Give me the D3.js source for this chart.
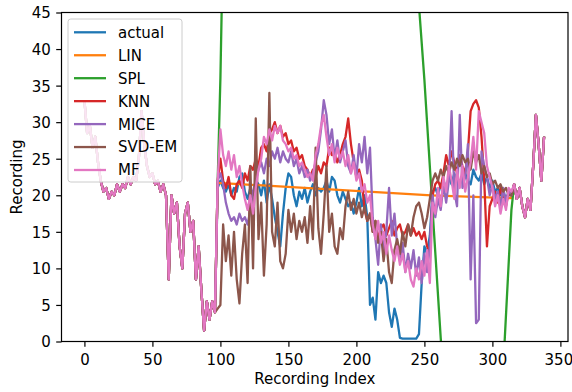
<!DOCTYPE html>
<html>
<head>
<meta charset="utf-8">
<script src="https://cdn.jsdelivr.net/npm/d3@7"></script>
<style>
  body { margin: 0; background: #fff; }
  svg { display: block; }
  text { font-family: "DejaVu Sans", sans-serif; fill: #000; }
</style>
</head>
<body>
<div id="chart"></div>
<script>
// readings taken every 2 recordings
// shared part before the gap (index 0..96)
const head = [
  33.0, 28.5, 29.5, 26.5, 28.0, 24.5, 22.0, 20.5, 21.0, 19.5,
  20.5, 20.0, 21.5, 20.5, 21.5, 21.0, 22.5, 21.5, 22.5, 22.0,
  25.0, 31.5, 27.0, 24.0, 22.5, 23.0, 21.5, 22.0, 20.5, 21.5,
  20.0, 8.5, 20.0, 17.5, 19.0, 13.0, 10.0, 17.5, 19.0, 15.0,
  16.5, 8.5, 13.0, 7.0, 1.5, 5.5, 3.0, 5.5, 4.0
];
// shared part after the gap (index 316..338)
const tail = [21.5, 19.5, 21.0, 18.5, 17.0, 19.5, 18.0, 24.0, 31.0, 27.0, 22.0, 28.0];

// gap, index 98..314
const actualGap = [
  21.0,
  22.0, 21.0, 20.5, 21.5, 20.0, 21.0, 20.5, 22.5, 23.0, 20.5,
  19.5, 21.0, 20.0, 22.0, 21.5, 20.0, 22.0, 19.0, 21.5, 19.5,
  17.0, 15.0, 13.0, 17.5, 21.0, 23.0, 22.5, 20.0, 18.5, 20.5,
  19.5, 21.0, 19.0, 20.5, 21.5, 20.0, 21.0, 20.5, 21.0, 22.0,
  20.5, 22.5, 22.0, 20.0, 19.0, 20.5, 19.5, 18.5, 19.0, 17.5,
  19.0, 21.0, 18.5, 20.0, 17.0, 5.0, 6.0, 3.0, 9.5, 8.0,
  9.0, 8.0, 4.0, 2.0, 4.5, 3.0, 0.5, 0.4, 0.4, 0.4,
  0.4, 0.4, 0.4, 1.0, 8.0, 13.0, 12.0, 14.5,
  20.5, 21.0, 20.0, 21.5, 22.0, 21.0, 22.5, 21.5, 23.0, 22.0,
  21.5, 22.5, 23.0, 22.0, 21.5, 23.5, 22.5, 22.0, 23.0, 21.5,
  22.5, 21.0, 22.0, 20.5, 21.0, 20.0, 20.5, 19.5, 20.5, 20.0
];
const knnGap = [
  22.0,
  25.0, 22.0, 21.0, 22.5, 20.0, 19.5, 21.5, 22.0, 21.0, 23.0,
  22.0, 24.0, 23.5, 25.0, 24.0, 26.5, 27.0, 26.0, 28.5, 29.0,
  30.0, 28.5, 29.5, 28.0, 28.5, 27.0, 27.5, 26.0, 26.5, 25.0,
  25.5, 24.0, 23.5, 22.5, 23.5, 22.5, 24.0, 23.0, 24.5, 24.0,
  26.5, 25.5, 26.0, 24.5, 25.5, 27.0, 28.0, 30.5, 27.0, 24.5,
  22.5, 23.5, 22.0, 18.0, 16.5, 17.5, 15.0, 16.5, 14.0, 15.5,
  16.0, 14.5, 15.5, 16.5, 14.5, 15.5, 16.0, 14.5, 15.0, 16.0,
  14.5, 15.5, 14.5, 15.0, 14.0, 15.0, 13.0, 12.0,
  20.0, 21.5, 22.0, 21.0, 23.0, 25.5, 24.0, 26.0, 24.5, 23.0,
  25.5, 24.0, 23.0, 26.0, 31.5, 32.5, 33.0, 32.0, 28.0, 22.0,
  13.0, 18.5, 19.5, 20.5, 19.0, 21.0, 19.5, 18.5, 20.5, 20.0
];
const miceGap = [
  22.0,
  23.0, 21.5, 19.0, 17.5, 16.5, 17.0, 16.0, 17.5, 16.5, 17.0,
  16.0, 18.0, 20.5, 22.0, 23.5, 24.5, 23.0, 25.0, 24.0, 26.0,
  25.0, 26.5, 24.5, 26.0, 25.0, 24.5, 26.0, 24.0, 25.0, 23.0,
  24.0, 22.5, 23.5, 22.0, 23.0, 24.5, 26.0, 29.0, 33.0, 31.0,
  27.0, 29.0, 25.0, 27.5, 24.5, 26.0, 27.5, 24.0, 23.0, 25.5,
  22.5, 27.0, 24.5, 28.0, 23.0, 26.5, 17.0, 14.0, 10.5, 16.0,
  12.5, 15.0, 21.0, 14.5, 17.5, 13.0, 11.0, 13.5, 9.5, 12.0,
  10.0, 12.5, 9.0, 11.5, 8.0, 12.0, 9.5, 13.0,
  20.0, 17.0, 19.5, 18.0, 21.5, 19.0, 22.0, 31.5, 20.5, 18.5,
  31.0, 21.0, 22.5, 27.0, 8.5, 20.0, 2.5, 3.0, 26.0, 24.0,
  22.5, 20.0, 21.5, 19.5, 20.5, 18.5, 21.0, 19.0, 20.5, 20.0
];
const svdGap = [
  4.5,
  5.0, 16.0, 11.0, 14.5, 9.0, 15.0, 8.5, 5.2, 12.0, 16.0,
  8.0, 24.0, 10.0, 30.5, 14.0, 19.0, 9.0, 16.0, 34.0, 15.0,
  13.0, 19.0, 11.0, 10.0, 12.0, 18.0, 15.0, 17.5, 14.0, 16.5,
  15.0, 17.0, 13.5, 18.5, 14.0, 26.5, 15.5, 12.0, 17.5, 24.0,
  15.0, 17.5, 13.0, 12.0, 15.5, 14.0, 18.5, 20.5, 18.0, 19.5,
  17.5, 19.0, 17.0, 18.5, 16.5, 17.5, 15.0, 16.5, 13.5, 15.0,
  11.0, 14.0, 9.5, 8.0, 12.5, 14.0, 12.0, 15.0, 13.0, 16.0,
  14.5, 17.0, 18.5, 19.0, 17.5, 15.5, 17.0, 19.5,
  22.0, 23.0, 22.0, 23.5, 22.5, 24.0, 23.0, 24.5, 23.5, 25.0,
  24.0, 25.5, 24.5, 25.0, 23.5, 26.0, 24.5, 25.5, 23.0, 24.0,
  22.5, 23.0, 21.5, 22.0, 21.0, 21.5, 20.5, 21.0, 20.0, 20.0
];
const mfGap = [
  22.0,
  29.0, 25.5, 24.0, 26.0, 23.5, 25.5, 22.5, 24.0, 21.5, 19.5,
  18.0, 20.0, 17.5, 21.0, 23.5, 25.0, 28.0, 27.0, 29.0, 27.5,
  29.5, 28.5, 29.5, 27.5, 27.0, 26.0, 26.5, 25.0, 25.5, 24.0,
  24.5, 23.5, 22.5, 23.0, 22.0, 25.5, 27.0, 29.5, 31.0, 28.0,
  25.5, 27.0, 24.5, 26.5, 25.0, 26.0, 24.0, 25.5, 23.0, 24.5,
  22.0, 23.0, 20.5, 21.5, 19.0, 20.0, 16.0, 14.0, 16.5, 13.5,
  15.0, 12.0, 14.5, 12.5, 11.0, 13.0, 10.5, 12.0, 9.5, 11.0,
  8.5, 7.5, 10.0, 8.5, 11.0, 9.0, 12.5, 8.0,
  19.0, 17.5, 21.0, 18.5, 22.5, 20.5, 24.0, 22.0, 19.5, 23.5,
  21.0, 24.0, 20.5, 22.5, 24.5, 28.0, 23.5, 31.5, 30.0, 28.5,
  24.0, 22.5, 21.0, 18.5, 20.0, 17.5, 19.5, 18.0, 21.0, 20.5
];
// linear interpolation knots
const linIdx = [98, 255, 314];
const linVal = [21.7, 20.0, 19.6];
// spline goes far outside the y range
const splIdx = [98, 100, 102, 106, 120, 160, 200, 230, 240, 246, 250, 255, 262, 270, 290, 305, 309, 314];
const splVal = [22, 36, 56, 100, 190, 260, 200, 110, 62, 46, 35.8, 21, 0.5, -20, -30, -12, 0, 18];

const names = ["actual", "LIN", "SPL", "KNN", "MICE", "SVD-EM", "MF"];
const colors = ["#1f77b4", "#ff7f0e", "#2ca02c", "#d62728", "#9467bd", "#8c564b", "#e377c2"];
const xTicks = [0, 50, 100, 150, 200, 250, 300, 350];
const yTicks = [0, 5, 10, 15, 20, 25, 30, 35, 40, 45];

// helpers
function pts(arr, start) { return arr.map((v, i) => ({x: start + 2 * i, y: v})); }
function knots(xs, ys) { return xs.map((x, i) => ({x: x, y: ys[i]})); }
function build(mid) { return pts(head, 0).concat(mid, pts(tail, 316)); }

const series = [
  build(pts(actualGap, 98)),
  build(knots(linIdx, linVal)),
  build(knots(splIdx, splVal)),
  build(pts(knnGap, 98)),
  build(pts(miceGap, 98)),
  build(pts(svdGap, 98)),
  build(pts(mfGap, 98))
];

const W = 572, H = 392;
const plot = {left: 61.5, right: 568, top: 12.5, bottom: 341.5};
const fontSize = "15px";

const svg = d3.select("#chart").append("svg")
  .attr("width", W).attr("height", H);

const x = d3.scaleLinear().domain([-16.85, 355.6]).range([plot.left, plot.right]);
const y = d3.scaleLinear().domain([0, 45]).range([plot.bottom, plot.top]);

svg.append("clipPath").attr("id", "clip")
  .append("rect")
  .attr("x", plot.left).attr("y", plot.top)
  .attr("width", plot.right - plot.left).attr("height", plot.bottom - plot.top);

// lines
const line = d3.line().x(d => x(d.x)).y(d => y(d.y));
const g = svg.append("g").attr("clip-path", "url(#clip)");
series.forEach((s, i) => {
  g.append("path")
    .datum(s)
    .attr("d", line)
    .attr("fill", "none")
    .attr("stroke", colors[i])
    .attr("stroke-width", 2.3)
    .attr("stroke-linejoin", "round");
});

// axes
const xAxis = svg.append("g")
  .attr("transform", "translate(0," + plot.bottom + ")")
  .call(d3.axisBottom(x).tickValues(xTicks).tickSize(5.3).tickPadding(5.3));
const yAxis = svg.append("g")
  .attr("transform", "translate(" + plot.left + ",0)")
  .call(d3.axisLeft(y).tickValues(yTicks).tickSize(5.3).tickPadding(5.3));
[xAxis, yAxis].forEach(a => {
  a.select(".domain").remove();
  a.selectAll("line").attr("stroke", "#000").attr("stroke-width", 1.2);
  a.selectAll("text").style("font-size", fontSize).style("font-family", "DejaVu Sans").attr("fill", "#000");
});
xAxis.selectAll("text").attr("y", 23.5).attr("dy", 0);
yAxis.selectAll("text").attr("dy", "0.36em");
// keep the last label inside the picture
xAxis.selectAll("text").filter(d => d === 350).attr("dx", -2);

// spines
svg.append("rect")
  .attr("x", plot.left).attr("y", plot.top)
  .attr("width", plot.right - plot.left).attr("height", plot.bottom - plot.top)
  .attr("fill", "none").attr("stroke", "#000").attr("stroke-width", 1.2);

// axis labels
svg.append("text")
  .attr("x", (plot.left + plot.right) / 2).attr("y", 384)
  .attr("text-anchor", "middle")
  .style("font-size", fontSize)
  .text("Recording Index");
svg.append("text")
  .attr("transform", "translate(21.5," + (plot.top + plot.bottom) / 2 + ") rotate(-90)")
  .attr("text-anchor", "middle")
  .style("font-size", fontSize)
  .text("Recording");

// legend
const legend = svg.append("g");
legend.append("rect")
  .attr("x", 68).attr("y", 19).attr("width", 114).attr("height", 163)
  .attr("rx", 2.8)
  .attr("fill", "#fff").attr("fill-opacity", 0.8)
  .attr("stroke", "#ccc").attr("stroke-width", 1);
names.forEach((n, i) => {
  const ly = 32.3 + i * 22.95;
  legend.append("line")
    .attr("x1", 74).attr("x2", 106).attr("y1", ly).attr("y2", ly)
    .attr("stroke", colors[i]).attr("stroke-width", 2.3);
  legend.append("text")
    .attr("x", 118).attr("y", ly + 5.4)
    .style("font-size", fontSize)
    .text(n);
});
</script>
</body>
</html>
